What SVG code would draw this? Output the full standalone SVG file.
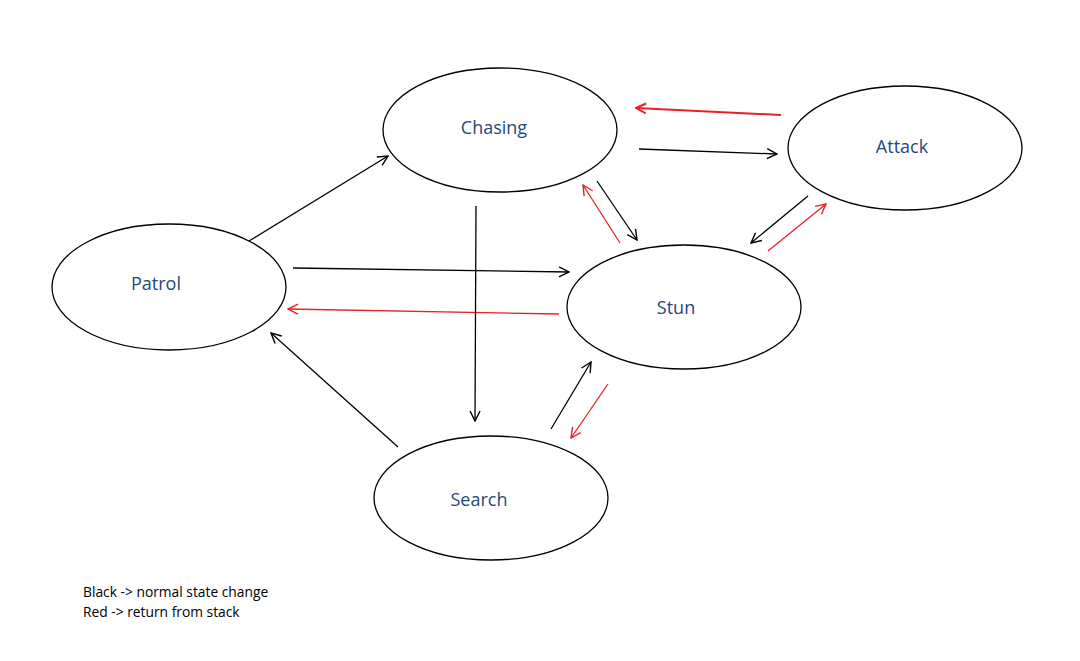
<svg xmlns="http://www.w3.org/2000/svg" width="1080" height="661" viewBox="0 0 1080 661">
<defs>
<style>
.node ellipse{fill:#fff;stroke:#000;stroke-width:1.3}
.node text{font-family:"Open Sans","Liberation Sans",sans-serif;font-size:18px;fill:#1f497d;text-anchor:middle}
.k{stroke:#000;stroke-width:1.3;fill:none;marker-end:url(#ak)}
.r{stroke:#e8202a;stroke-width:1.3;fill:none;marker-end:url(#ar)}
.legend{font-family:"Open Sans","Liberation Sans",sans-serif;font-size:13.8px;fill:#000}
</style>
<marker id="ak" viewBox="0 0 12 12" refX="11" refY="6" markerWidth="12" markerHeight="12" markerUnits="userSpaceOnUse" orient="auto">
<path d="M1,1 L11,6 L1,11" fill="none" stroke="#000" stroke-width="1.4"/>
</marker>
<marker id="ar" viewBox="0 0 12 12" refX="11" refY="6" markerWidth="12" markerHeight="12" markerUnits="userSpaceOnUse" orient="auto">
<path d="M1,1 L11,6 L1,11" fill="none" stroke="#e8202a" stroke-width="1.4"/>
</marker>
<marker id="ar2" viewBox="0 0 12 12" refX="11" refY="6" markerWidth="12" markerHeight="12" markerUnits="userSpaceOnUse" orient="auto">
<path d="M1,1 L11,6 L1,11" fill="none" stroke="#e8202a" stroke-width="2"/>
</marker>
</defs>
<rect width="1080" height="661" fill="#fff"/>
<g id="chasing" class="node"><ellipse cx="500" cy="130" rx="117" ry="62"/><text x="494" y="134">Chasing</text></g>
<g id="attack" class="node"><ellipse cx="905" cy="148" rx="117" ry="62"/><text x="902" y="153">Attack</text></g>
<g id="patrol" class="node"><ellipse cx="169" cy="287" rx="117" ry="63"/><text x="156" y="290">Patrol</text></g>
<g id="stun" class="node"><ellipse cx="684" cy="307" rx="117" ry="62"/><text x="676" y="314">Stun</text></g>
<g id="search" class="node"><ellipse cx="491" cy="498" rx="117" ry="62"/><text x="479" y="506">Search</text></g>
<g id="connectors">
<line class="k" x1="249" y1="241" x2="388" y2="156"/>
<line class="k" x1="639" y1="149" x2="777" y2="154"/>
<line class="r" style="stroke-width:2;marker-end:url(#ar2)" x1="781" y1="115" x2="636" y2="108"/>
<line class="k" x1="597" y1="181" x2="637" y2="240"/>
<line class="r" x1="620" y1="243" x2="583" y2="185"/>
<line class="k" x1="808" y1="196" x2="751" y2="243"/>
<line class="r" x1="768" y1="251" x2="826" y2="204"/>
<line class="k" x1="293" y1="268" x2="569" y2="272"/>
<line class="r" x1="559" y1="314" x2="288" y2="309"/>
<line class="k" x1="476" y1="206" x2="475" y2="421"/>
<line class="k" x1="551" y1="429" x2="591" y2="362"/>
<line class="r" x1="608" y1="384" x2="571" y2="438"/>
<line class="k" x1="398" y1="447" x2="271" y2="333"/>
</g>
<g id="legend">
<text class="legend" x="83" y="597">Black -&gt; normal state change</text>
<text class="legend" x="83" y="617">Red -&gt; return from stack</text>
</g>
</svg>
